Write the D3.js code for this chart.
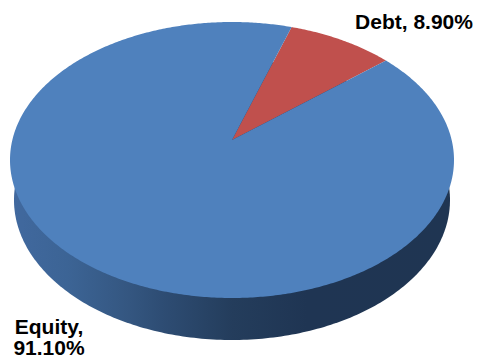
<!DOCTYPE html>
<html>
<head>
<meta charset="utf-8">
<script src="https://cdn.jsdelivr.net/npm/d3@7"></script>
<style>
html,body{margin:0;padding:0;background:#fff;}
svg{display:block;}
text{font-family:"Liberation Sans",Arial,sans-serif;font-weight:bold;fill:#000;font-size:21px;}
</style>
</head>
<body>
<svg id="chart" width="477" height="360"></svg>
<script>
const categories = ["Debt", "Equity"];
const shares = [8.9, 91.1];
const sliceColors = ["#c0504d", "#4f81bd"];
const labelLines = [["Debt, 8.90%"], ["Equity,", "91.10%"]];

const svg = d3.select("#chart");
const cx = 232, cy = 160, rx = 222, ry = 138;
const base = { cx: 232, cy: 200, rx: 218, ry: 140 };  // underside of the disc, further from the eye
const tilt = 0.145;   // how far the perspective lifts the pie's centre inside the ellipse
const firstAngle = 18 * Math.PI / 180;

// Perspective map from the unit disc (angle clockwise from north, radius) to the top face.
function project(angle, radius) {
  const u = radius * Math.sin(angle), v = -radius * Math.cos(angle);
  const w = 1 - tilt * v;
  return [cx + rx * u * Math.sqrt(1 - tilt * tilt) / w, cy + ry * (v - tilt) / w];
}

const pie = d3.pie().sort(null).value(d => d)
  .startAngle(firstAngle).endAngle(firstAngle + 2 * Math.PI);
const arcs = pie(shares);
const line = d3.line();

function slicePath(a) {
  const n = Math.ceil((a.endAngle - a.startAngle) / 0.01);
  const rim = d3.range(n + 1).map(i => project(a.startAngle + (a.endAngle - a.startAngle) * i / n, 1));
  return line([project(0, 0), ...rim]) + "Z";
}

// Rim wall: the underside ellipse, of which only the lower band shows past the top face.
const defs = svg.append("defs");
const wallGrad = defs.append("linearGradient").attr("id", "wall")
  .attr("gradientUnits", "userSpaceOnUse")
  .attr("x1", cx - rx).attr("x2", cx + rx).attr("y1", 0).attr("y2", 0);
[[0, "#41699f"], [0.13, "#3c6495"], [0.27, "#345680"], [0.34, "#2e4d74"], [0.5, "#243d5c"], [0.67, "#1f3553"], [1, "#1f3552"]]
  .forEach(([o, c]) => wallGrad.append("stop").attr("offset", o).attr("stop-color", c));

const fullTurn = d3.range(0, 360).map(d => d * Math.PI / 180);
const underside = fullTurn.map(t => [base.cx + base.rx * Math.cos(t), base.cy + base.ry * Math.sin(t)]);
svg.append("path").attr("d", line(underside) + "Z").attr("fill", "url(#wall)");

svg.selectAll("path.slice").data(arcs).join("path")
  .attr("class", "slice")
  .attr("d", slicePath)
  .attr("fill", (d, i) => sliceColors[i]);

const labelAnchors = [[414, 29], [49, 333.5]];
labelLines.forEach((rows, i) => {
  const t = svg.append("text").attr("text-anchor", "middle")
    .attr("x", labelAnchors[i][0]).attr("y", labelAnchors[i][1]);
  rows.forEach((r, j) => t.append("tspan")
    .attr("x", labelAnchors[i][0]).attr("dy", j ? 21.5 : 0).text(r));
});
</script>
</body>
</html>
